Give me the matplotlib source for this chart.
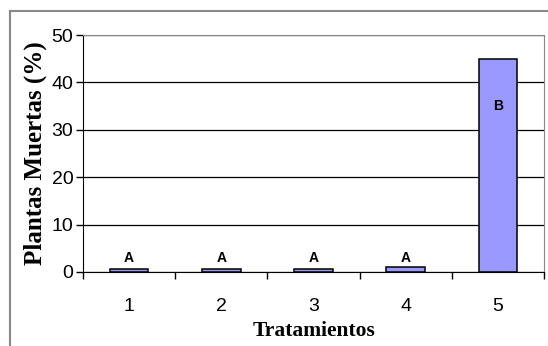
import matplotlib.pyplot as plt
from matplotlib.lines import Line2D

# data
tratamientos = ['1', '2', '3', '4', '5']
muertas = [0.6, 0.6, 0.6, 1.0, 45.0]
letras = ['A', 'A', 'A', 'A', 'B']
letra_y = [2.9, 2.9, 2.9, 2.9, 35.0]

fig = plt.figure(figsize=(5.48, 3.46), dpi=100)
ax = fig.add_axes([83/548, 1 - 272/346, (544 - 83)/548, (272 - 35)/346])

x = range(len(tratamientos))
ax.bar(x, muertas, width=0.42, color='#9999FF', edgecolor='black', linewidth=1.1, zorder=3)

for i in x:
    ax.text(i, letra_y[i], letras[i], ha='center', va='center', fontsize=10,
            fontweight='bold', family='Liberation Sans', zorder=4)

ax.set_xlim(-0.5, 4.5)
ax.set_ylim(0, 50)
ax.set_yticks([0, 10, 20, 30, 40, 50])
ax.set_xticks(list(x))
ax.set_xticklabels(tratamientos)
ax.set_xticks([i + 0.5 for i in range(-1, 5)], minor=True)
ax.tick_params(axis='x', which='major', length=0, pad=19, labelsize=14)
ax.tick_params(axis='x', which='minor', length=5, width=1, color='black')
ax.tick_params(axis='y', length=5, width=1, labelsize=14, pad=2)
for lab in ax.get_xticklabels() + ax.get_yticklabels():
    lab.set_family('Liberation Sans')

ax.yaxis.grid(True, color='black', linewidth=0.9, zorder=0)
ax.spines['left'].set_color('black')
ax.spines['bottom'].set_color('black')
ax.spines['bottom'].set_zorder(5)
ax.spines['top'].set_color('#888888')
ax.spines['right'].set_color('#888888')

ax.set_ylabel('Plantas Muertas (%)', family='Liberation Serif', fontweight='bold',
              fontsize=18, labelpad=3)
ax.set_xlabel('Tratamientos', family='Liberation Serif', fontweight='bold',
              fontsize=15.5, labelpad=4)

# outer chart border
fig.add_artist(Line2D([10/548, 10/548], [0, 1 - 11/346], color='#888888', linewidth=1.5))
fig.add_artist(Line2D([10/548, 1], [1 - 11/346, 1 - 11/346], color='#888888', linewidth=1.5))

fig.savefig('out.png', dpi=100)
